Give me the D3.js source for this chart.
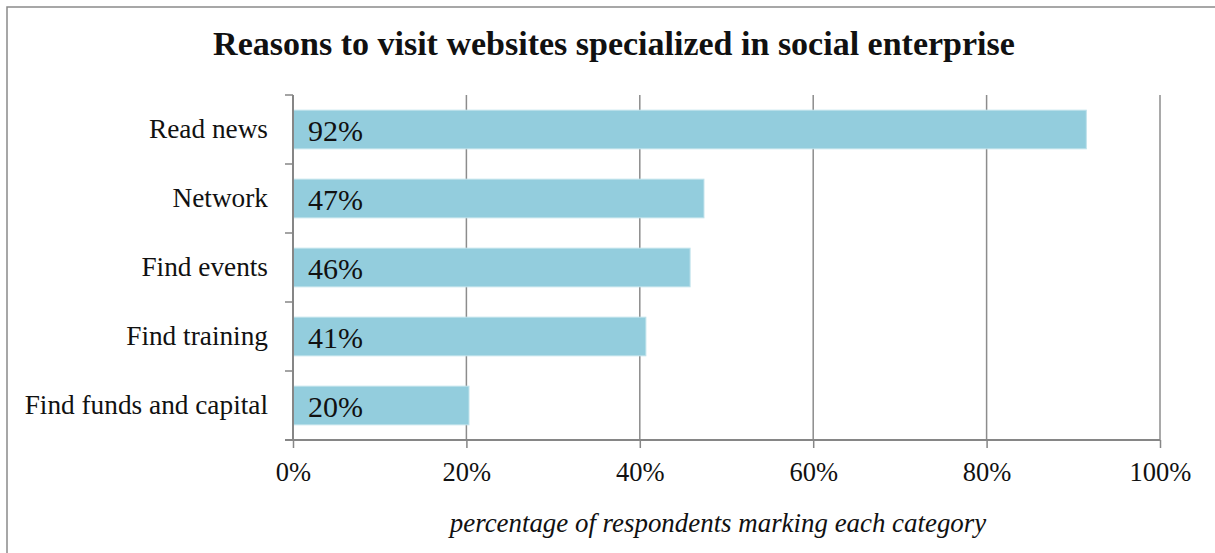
<!DOCTYPE html>
<html>
<head>
<meta charset="utf-8">
<script src="https://d3js.org/d3.v7.min.js"></script>
<style>
  body { margin: 0; background: #fff; }
  text { font-family: "Liberation Serif", serif; fill: #111; }
</style>
</head>
<body>
<svg id="chart" width="1215" height="553"></svg>
<script>
// data
const categories = ["Read news", "Network", "Find events", "Find training", "Find funds and capital"];
const values = [91.5, 47.4, 45.8, 40.7, 20.3];
const xTicks = [0, 20, 40, 60, 80, 100];
const title = "Reasons to visit websites specialized in social enterprise";
const xTitle = "percentage of respondents marking each category";

const svg = d3.select("svg#chart");
const margins = {"top": 95, "right": 55, "bottom": 113, "left": 293};
const width = +svg.attr("width");
const height = +svg.attr("height");
const chartWidth = width - margins.left - margins.right;   // 867
const chartHeight = height - margins.top - margins.bottom; // 345

// outer frame (right and bottom edges fall outside the picture)
svg.append("rect")
  .attr("x", 7).attr("y", 7)
  .attr("width", 1240).attr("height", 600)
  .attr("fill", "none").attr("stroke", "#8a8a8a").attr("stroke-width", 1.5);

const xScale = d3.scaleLinear().domain([0, 100]).range([0, chartWidth]);
const yScale = d3.scaleBand().domain(categories).range([0, chartHeight]).paddingInner(0.44).paddingOuter(0.22);

const chart = svg.append("g")
  .attr("transform", "translate(" + margins.left + "," + margins.top + ")");

// vertical gridlines
chart.selectAll("line.grid").data(xTicks.slice(1))
  .join("line").attr("class", "grid")
  .attr("x1", d => xScale(d)).attr("x2", d => xScale(d))
  .attr("y1", 0).attr("y2", chartHeight)
  .attr("stroke", "#8c8c8c").attr("stroke-width", 1.5);

// bars
chart.selectAll("rect.bar").data(values)
  .join("rect").attr("class", "bar")
  .attr("x", 0)
  .attr("y", (d, i) => yScale(categories[i]))
  .attr("width", d => xScale(d))
  .attr("height", yScale.bandwidth())
  .attr("fill", "#93cddd")
  .attr("stroke", "#bfe2eb").attr("stroke-width", 1);

// value labels
chart.selectAll("text.val").data(values)
  .join("text").attr("class", "val")
  .attr("x", 15)
  .attr("y", (d, i) => yScale(categories[i]) + yScale.bandwidth() / 2)
  .attr("dy", "0.37em")
  .style("font-size", "30px")
  .text(d => Math.round(d) + "%");

// y axis: line, ticks at band edges, category labels
const yEdges = d3.range(categories.length + 1).map(i => i * chartHeight / categories.length);
chart.append("line")
  .attr("x1", 0).attr("x2", 0).attr("y1", 0).attr("y2", chartHeight)
  .attr("stroke", "#868686").attr("stroke-width", 2);
chart.selectAll("line.ytick").data(yEdges)
  .join("line").attr("class", "ytick")
  .attr("x1", -8).attr("x2", 0)
  .attr("y1", d => d).attr("y2", d => d)
  .attr("stroke", "#868686").attr("stroke-width", 1.5);
chart.selectAll("text.cat").data(categories)
  .join("text").attr("class", "cat")
  .attr("x", -25)
  .attr("y", d => yScale(d) + yScale.bandwidth() / 2)
  .attr("dy", "0.3em")
  .attr("text-anchor", "end")
  .style("font-size", "27.3px")
  .text(d => d);

// x axis
const xAxis = d3.axisBottom(xScale)
  .tickValues(xTicks)
  .tickSize(8)
  .tickSizeOuter(0)
  .tickPadding(14)
  .tickFormat(d => d + "%");
const xg = chart.append("g")
  .attr("transform", "translate(0," + chartHeight + ")")
  .call(xAxis);
xg.select(".domain").attr("stroke", "#868686").attr("stroke-width", 2)
  .attr("d", "M-8,0H" + chartWidth);
xg.selectAll(".tick line").attr("stroke", "#868686").attr("stroke-width", 1.5);
xg.selectAll(".tick text")
  .style("font-family", "'Liberation Serif', serif")
  .style("font-size", "26.5px")
  .attr("fill", "#111");

// titles
svg.append("text")
  .attr("x", 614).attr("y", 55)
  .attr("text-anchor", "middle")
  .style("font-size", "34px").style("font-weight", "bold")
  .text(title);

svg.append("text")
  .attr("x", 718).attr("y", 532)
  .attr("text-anchor", "middle")
  .style("font-size", "26.9px").style("font-style", "italic")
  .text(xTitle);
</script>
</body>
</html>
